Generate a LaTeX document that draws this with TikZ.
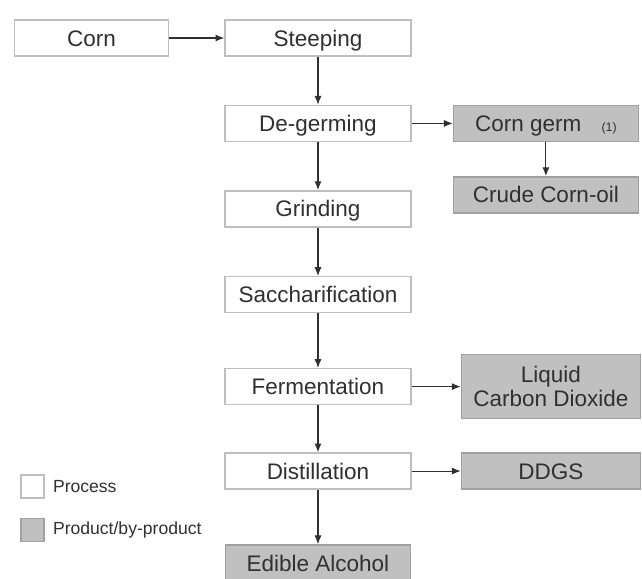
\documentclass[tikz,border=0pt]{standalone}
\usepackage{fontspec}
\setmainfont{Liberation Sans}
\usetikzlibrary{positioning,arrows.meta}

\definecolor{boxline}{RGB}{190,190,190}
\definecolor{prodfill}{RGB}{192,192,192}
\definecolor{prodline}{RGB}{160,160,160}
\definecolor{inkgray}{RGB}{48,48,48}

\begin{document}
\begin{tikzpicture}[
    proc/.style={draw=boxline, line width=0.8pt, fill=white, rectangle, minimum height=0.72cm, minimum width=3.72cm, text centered, inner sep=0pt, text height=9.2pt, text depth=0pt},
    prod/.style={draw=prodline, line width=0.8pt, fill=prodfill, rectangle, minimum height=0.72cm, minimum width=3.7cm, text centered, inner sep=0pt, text height=9.2pt, text depth=0pt},
    legbox/.style={rectangle, minimum size=0.46cm, inner sep=0pt, line width=0.8pt},
    every node/.style={font=\fontsize{12.8}{15}\selectfont, text=inkgray},
    flow/.style={draw=inkgray, line width=0.6pt, -{Latex[length=5pt,width=4pt]}}]
                \useasboundingbox (0, 0) rectangle (12.84, -11.58);
                \node[proc] (Steep) at (6.36, -0.76) {Steeping};
                \node[proc, minimum width=3.08cm, left =1.1cm of Steep] (Corn) {Corn};
                \node[proc, below =0.96cm of Steep] (Degerm) {De-germing};
                \node[proc, below =0.96cm of Degerm] (Grind) {Grinding};
                \node[proc, below =0.97cm of Grind] (Sacch) {Saccharification};
                \node[proc, below =1.09cm of Sacch] (Ferm) {Fermentation};
                \node[proc, below =0.94cm of Ferm] (Dist) {Distillation};
                \node[prod, below =1.09cm of Dist] (Alcohol) {Edible Alcohol};
                \node[prod, right =0.82cm of Degerm] (Germ) {Corn germ\hspace{0.9em}{\fontsize{7}{8}\selectfont(1)}};
                \node[prod, below =0.68cm of Germ] (Oil) {Crude Corn-oil};
                \node[prod, minimum width=3.58cm, minimum height=1.28cm, align=center, text height=, text depth=, right =0.98cm of Ferm] (CO2) {Liquid\\[-1pt]Carbon Dioxide};
                \node[prod, minimum width=3.58cm, right =0.98cm of Dist] (DDGS) {DDGS};
                \foreach \u / \v in {Corn/Steep, Steep/Degerm, Degerm/Grind, Grind/Sacch, Sacch/Ferm, Ferm/Dist, Dist/Alcohol, Degerm/Germ, Germ/Oil, Ferm/CO2, Dist/DDGS}
                    \draw[flow] (\u) -- (\v);
                % legend
                \node[legbox, draw=boxline, fill=white] (LegProc) at (0.65, -9.73) {};
                \node[legbox, draw=prodline, fill=prodfill, below =0.38cm of LegProc] (LegProd) {};
                \node[right =0.16cm of LegProc, inner sep=0pt, font=\fontsize{10}{12}\selectfont] (LegProcTxt) {Process};
                \node[right =0.16cm of LegProd, inner sep=0pt, font=\fontsize{10}{12}\selectfont] (LegProdTxt) {Product/by-product};
            \end{tikzpicture}
\end{document}
